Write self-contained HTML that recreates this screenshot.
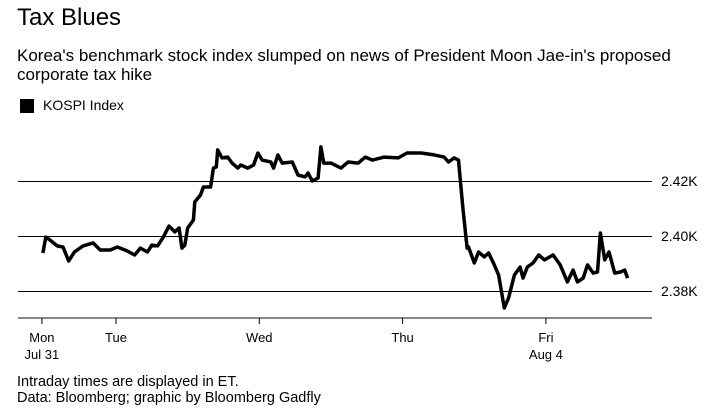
<!DOCTYPE html>
<html><head><meta charset="utf-8"><style>
body{margin:0;background:#fff;font-family:"Liberation Sans",Arial,sans-serif;color:#000}
#wrap{position:relative;width:720px;height:420px;overflow:hidden}
.t{position:absolute;white-space:nowrap}
</style></head><body>
<div id="wrap">
<div class="t" style="left:17px;top:4px;font-size:24px">Tax Blues</div>
<div class="t" style="left:17px;top:46px;font-size:17px;line-height:19px">Korea's benchmark stock index slumped on news of President Moon Jae-in's proposed<br>corporate tax hike</div>
<div style="position:absolute;left:20px;top:99px;width:14px;height:14px;background:#000"></div>
<div class="t" style="left:43px;top:97px;font-size:14px">KOSPI Index</div>
<svg id="chart" width="720" height="420" style="position:absolute;left:0;top:0"></svg>
<div class="t" style="left:17px;top:374px;font-size:14.5px">Intraday times are displayed in ET.</div>
<div class="t" style="left:17px;top:390px;font-size:14.5px">Data: Bloomberg; graphic by Bloomberg Gadfly</div>
</div>
<script>
const times=[0.49,0.51,0.54,0.59,0.63,0.67,0.71,0.77,0.84,0.89,0.96,1.01,1.08,1.13,1.17,1.22,1.25,1.29,1.33,1.37,1.41,1.44,1.46,1.48,1.50,1.54,1.55,1.59,1.61,1.66,1.68,1.70,1.71,1.74,1.78,1.81,1.85,1.87,1.92,1.96,1.99,2.02,2.08,2.10,2.13,2.16,2.23,2.27,2.32,2.34,2.37,2.41,2.43,2.45,2.50,2.57,2.62,2.69,2.74,2.79,2.87,2.97,3.03,3.13,3.22,3.29,3.32,3.36,3.39,3.42,3.45,3.46,3.50,3.53,3.57,3.60,3.64,3.67,3.71,3.74,3.78,3.82,3.84,3.87,3.91,3.95,3.99,4.05,4.10,4.15,4.19,4.22,4.26,4.29,4.33,4.36,4.38,4.41,4.44,4.48,4.52,4.55,4.57];
const values=[2393.8,2399.6,2398.5,2396.4,2396.0,2390.9,2394.2,2396.4,2397.5,2394.9,2394.9,2396.0,2394.5,2393.1,2395.6,2394.2,2396.7,2396.4,2399.6,2403.6,2401.5,2402.9,2395.6,2396.7,2402.9,2405.8,2412.4,2414.9,2417.8,2417.8,2424.7,2425.1,2431.3,2428.4,2428.7,2426.5,2424.7,2425.8,2424.7,2425.8,2430.2,2427.6,2426.9,2424.7,2429.5,2426.5,2426.9,2422.2,2421.5,2422.9,2420.0,2421.1,2432.4,2426.5,2426.5,2424.7,2426.9,2426.5,2428.7,2427.6,2428.7,2428.4,2430.2,2430.2,2429.5,2428.7,2426.9,2428.4,2427.6,2410.5,2395.6,2396.0,2390.2,2394.2,2392.4,2393.8,2389.5,2385.8,2373.8,2377.5,2385.8,2388.7,2384.7,2388.7,2390.2,2393.1,2391.3,2393.1,2389.5,2383.3,2387.6,2383.3,2384.7,2389.5,2386.5,2386.9,2401.1,2391.3,2394.2,2386.5,2386.9,2387.6,2384.7];
const yTicks=[2380,2400,2420];
const yTickLabels=["2.38K","2.40K","2.42K"];
const xTicks=[0.483,1,2,3,4];
const xTickLabels=["Mon","Tue","Wed","Thu","Fri"];
const xTickSub=["Jul 31","","","","Aug 4"];
const NS="http://www.w3.org/2000/svg";
const svg=document.getElementById('chart');
const X=t=>116+(t-1)*143.3;
const Y=v=>291-(v-2380)*2.75;
function mk(tag,a){const e=document.createElementNS(NS,tag);for(const k in a)e.setAttribute(k,a[k]);svg.appendChild(e);return e;}
yTicks.forEach((v,i)=>{
 const l=mk('line',{x1:18,x2:652,y1:Y(v)+0.5,y2:Y(v)+0.5,stroke:'#000','stroke-width':1});
 
 
 const t=mk('text',{x:661,y:Y(v)+5,'text-anchor':'start','font-size':14,'font-family':'Liberation Sans, sans-serif'});
 t.textContent=yTickLabels[i];
 
 
});
const ax=mk('line',{x1:18,x2:652,y1:318,y2:318,stroke:'#888','stroke-width':2});


xTicks.forEach((t,i)=>{
 const x=X(t);
 const tk=mk('line',{x1:x,x2:x,y1:318,y2:324,stroke:'#000','stroke-width':1});
 
 
 const lb=mk('text',{x:x,y:342,'text-anchor':'middle','font-size':13,'font-family':'Liberation Sans, sans-serif'});
 lb.textContent=xTickLabels[i];
 
 
 if(xTickSub[i]){
  const s=mk('text',{x:x,y:359,'text-anchor':'middle','font-size':13,'font-family':'Liberation Sans, sans-serif'});
  s.textContent=xTickSub[i];
  
  
 }
});
const d=times.map((t,i)=>(i?'L':'M')+X(t).toFixed(1)+','+Y(values[i]).toFixed(1)).join('');
const p=mk('path',{d:d,fill:'none',stroke:'#000','stroke-width':3.5,'stroke-linejoin':'round'});


</script>
</body></html>
